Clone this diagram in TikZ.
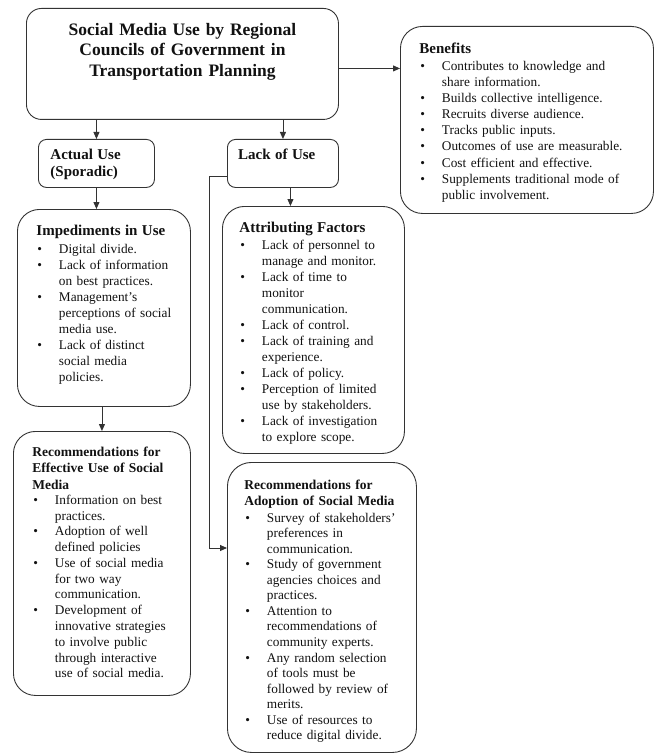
\documentclass[tikz,border=0pt]{standalone}
\usepackage{fontspec}
\setmainfont{Liberation Serif}
\usepackage{tikz}
\usetikzlibrary{arrows.meta,positioning}
\definecolor{SmLine}{HTML}{333333}
\definecolor{SmInk}{HTML}{111111}
\newcommand{\bodyfont}[1]{\fontsize{13.3pt}{#1pt}\selectfont}
\newcommand{\hdg}[1]{{\bfseries\fontsize{15pt}{17pt}\selectfont #1}}
\newcommand{\rhdg}[1]{{\bfseries\fontsize{13.5pt}{16pt}\selectfont #1}}
\newcommand{\ibul}{\makebox[22.5pt][l]{\hspace{1pt}\textbullet}}
\newcommand{\icont}{\hspace*{22.5pt}}

\begin{document}
\begin{tikzpicture}[x=1pt,y=-1pt]
  \tikzset{
    box/.style={draw=SmLine,line width=.9pt,rounded corners=#1,align=left,
      inner ysep=0pt,anchor=north west,text=SmInk},
    box/.default=20pt,
    flow/.style={-{Triangle[length=7pt,width=6pt]},line width=.9pt,draw=SmLine}
  }
  \useasboundingbox (0,0) rectangle (655,754);
  \node[box=15pt,align=center,inner xsep=0pt,text width=312pt,text height=27pt,text depth=84pt,
    font=\bfseries\fontsize{17.5pt}{20.5pt}\selectfont] (title) at (26,8)
    {Social Media Use by Regional\\Councils of Government in\\Transportation Planning};
  \node[box=22pt,inner xsep=19pt,text width=215pt,text height=27pt,text depth=160pt,
    font=\bodyfont{16.1}] (benefits) at (400,26) {\hdg{Benefits}\\[0.9pt]
    \ibul Contributes to knowledge and\\
    \icont share information.\\
    \ibul Builds collective intelligence.\\
    \ibul Recruits diverse audience.\\
    \ibul Tracks public inputs.\\
    \ibul Outcomes of use are measurable.\\
    \ibul Cost efficient and effective.\\
    \ibul Supplements traditional mode of\\
    \icont public involvement.};
  \node[box=8pt,inner xsep=12pt,text width=92pt,text height=20pt,text depth=28pt,
    font=\bodyfont{17.5}] (actual) at (38,139) {\hdg{Actual Use}\\\hdg{(Sporadic)}};
  \node[box=8pt,inner xsep=10.7pt,text width=89.6pt,text height=20pt,text depth=28pt,
    font=\bodyfont{16}] (lack) at (227,139) {\hdg{Lack of Use}};
  % left column
  \node[box=22pt,inner xsep=19pt,text width=135pt,text height=26pt,text depth=171pt,
    font=\bodyfont{16}] (imped) at (17,209) {\hdg{Impediments in Use}\\[2pt]
    \ibul Digital divide.\\
    \ibul Lack of information\\
    \icont on best practices.\\
    \ibul Management's\\
    \icont perceptions of social\\
    \icont media use.\\
    \ibul Lack of distinct\\
    \icont social media\\
    \icont policies.};
  \node[box=22pt,inner xsep=19pt,text width=139pt,text height=25pt,text depth=239pt,
    font=\bodyfont{15.77}] (receff) at (13,431) {\rhdg{Recommendations for}\\[0.7pt]
    \rhdg{Effective Use of Social}\\[0.7pt]
    \rhdg{Media}\\[-0.8pt]
    \ibul Information on best\\
    \icont practices.\\
    \ibul Adoption of well\\
    \icont defined policies\\
    \ibul Use of social media\\
    \icont for two way\\
    \icont communication.\\
    \ibul Development of\\
    \icont innovative strategies\\
    \icont to involve public\\
    \icont through interactive\\
    \icont use of social media.};
  % middle column
  \node[box=22pt,inner xsep=17pt,text width=148pt,text height=26pt,text depth=221pt,
    font=\bodyfont{16}] (attr) at (222,206) {\hdg{Attributing Factors}\\[1pt]
    \ibul Lack of personnel to\\
    \icont manage and monitor.\\
    \ibul Lack of time to\\
    \icont monitor\\
    \icont communication.\\
    \ibul Lack of control.\\
    \ibul Lack of training and\\
    \icont experience.\\
    \ibul Lack of policy.\\
    \ibul Perception of limited\\
    \icont use by stakeholders.\\
    \ibul Lack of investigation\\
    \icont to explore scope.};
  \node[box=24pt,inner xsep=17pt,text width=155pt,text height=27.5pt,text depth=262.5pt,
    font=\bodyfont{15.55}] (adopt) at (227,462) {\rhdg{Recommendations for}\\
    \rhdg{Adoption of Social Media}\\[1pt]
    \ibul Survey of stakeholders'\\
    \icont preferences in\\
    \icont communication.\\
    \ibul Study of government\\
    \icont agencies choices and\\
    \icont practices.\\
    \ibul Attention to\\
    \icont recommendations of\\
    \icont community experts.\\
    \ibul Any random selection\\
    \icont of tools must be\\
    \icont followed by review of\\
    \icont merits.\\
    \ibul Use of resources to\\
    \icont reduce digital divide.};
  \coordinate (bend) at (209,548);
  \draw[flow] (title.south -| actual.north) -- (actual.north);
  \draw[flow] (title.south -| lack.north) -- (lack.north);
  \draw[flow] ([yshift=-4.5pt]title.east) -- ([yshift=-4.5pt]title.east -| benefits.west);
  \draw[flow] (actual.south) -- (actual.south |- imped.north);
  \draw[flow] (receff.north |- imped.south) -- (receff.north);
  \draw[flow] ([xshift=7.5pt]lack.south) -- ([xshift=7.5pt]lack.south |- attr.north);
  \draw[flow] ([yshift=-13pt]lack.west) -| (bend) -- (bend -| adopt.west);
\end{tikzpicture}
\end{document}
